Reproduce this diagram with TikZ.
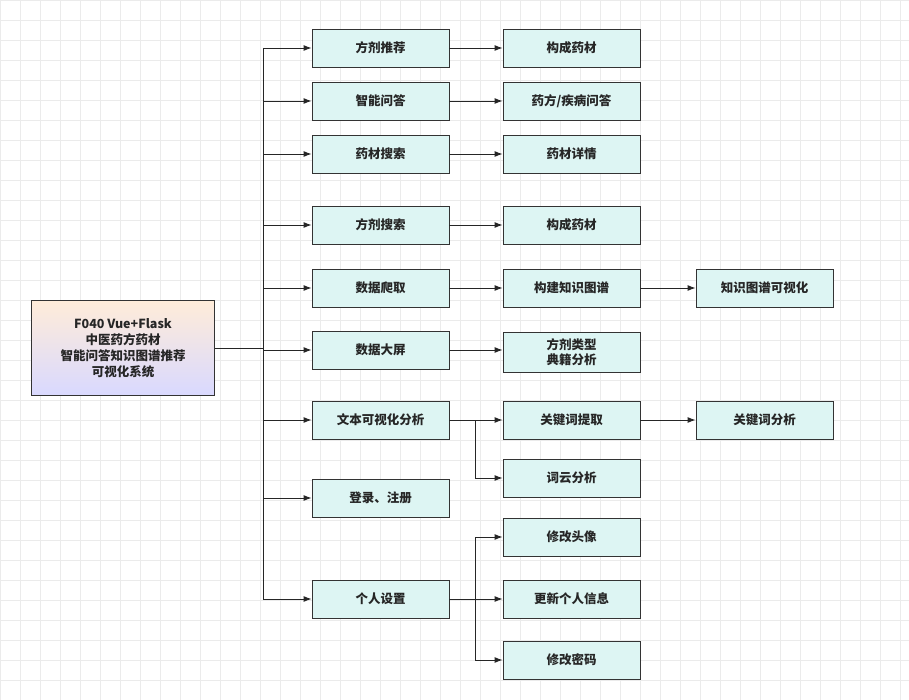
\documentclass[tikz,border=0pt]{standalone}
\usepackage{fontspec}
\setmainfont{Noto Sans CJK SC}
\usetikzlibrary{arrows.meta}
\definecolor{boxfill}{RGB}{221,245,243}
\begin{document}
\begin{tikzpicture}[x=1pt,y=-1pt,
 box/.style={draw=black!80,line width=0.9pt,fill=boxfill,minimum width=137pt,minimum height=38pt,inner sep=1pt,font=\fontsize{12.5}{15}\selectfont\bfseries,align=center,text=black!85},
 ln/.style={draw=black!85,line width=0.9pt},
 ar/.style={ln,-{Latex[length=8pt,width=6pt]}}]
\useasboundingbox (0,0) rectangle (909,700);
\fill[white] (0,0) rectangle (909,700);
\foreach \x in {0,20,...,900}{\draw[black!8,line width=0.5pt] (\x,0) -- (\x,700);}
\foreach \y in {0,20,...,700}{\draw[black!8,line width=0.5pt] (0,\y) -- (909,\y);}
\node[draw=black!80,line width=0.9pt,minimum width=183pt,minimum height=95pt,align=center,text=black!85,
 top color=orange!15,bottom color=blue!15,font=\fontsize{12.5}{16}\selectfont\bfseries] (root) at (123,348)
 {F040 Vue+Flask\\中医药方药材\\智能问答知识图谱推荐\\可视化系统};
\coordinate (t) at (263,348);
\draw[ln] (root.east) -- (t);
\draw[ln] (263,48) -- (263,599);
\foreach \n/\y/\t in {a/48/方剂推荐,b/101/智能问答,c/154/药材搜索,d/225/方剂搜索,e/288/数据爬取,f/350/数据大屏,g/420/文本可视化分析,h/498/登录、注册,i/599/个人设置}{
 \node[box] (\n) at (380.5,\y) {\t};
 \coordinate (j\n) at (263,\y);
 \draw[ar] (j\n) -- (\n.west);
}
\foreach \n/\y/\t in {A/48/构成药材,B/101/{药方/疾病问答},C/154/药材详情,D/225/构成药材,E/288/构建知识图谱,G/420/关键词提取,H/478/词云分析,I/537/修改头像,J/599/更新个人信息,K/660/修改密码}{
 \node[box] (\n) at (571.5,\y) {\t};
}
\node[box,minimum height=40pt] (F) at (571.5,352) {方剂类型\\典籍分析};
\node[box] (E2) at (764.5,288) {知识图谱可视化};
\node[box] (G2) at (764.5,420) {关键词分析};
\foreach \s/\d in {a/A,b/B,c/C,d/D,e/E,f/F,g/G,i/J}{\draw[ar] (\s.east) -- (\s.east-|\d.west);}
\draw[ar] (E) -- (E2);
\draw[ar] (G) -- (G2);
\coordinate (kg) at (475,420);
\draw[ar] (kg) |- (H.west);
\coordinate (ki) at (475,599);
\draw[ar] (ki) |- (I.west);
\draw[ar] (ki) |- (K.west);
\end{tikzpicture}
\end{document}
